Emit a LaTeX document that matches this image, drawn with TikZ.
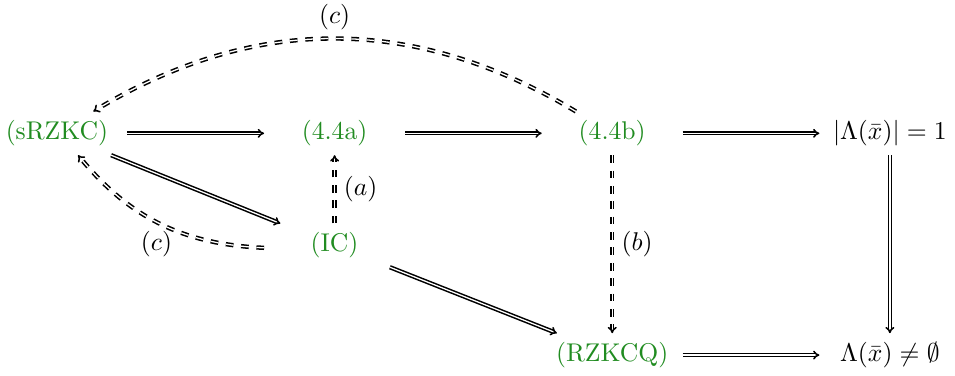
\documentclass[tikz,border=0pt]{standalone}
\usetikzlibrary{arrows.meta}
\usepackage{amsmath}
\definecolor{cgreen}{rgb}{0.13,0.55,0.13}

\begin{document}
\begin{tikzpicture}[node distance={108.3pt}, main/.style = {text=cgreen, minimum width=54.6pt, text height=7.5pt, text depth=2.5pt}, imp/.style = {line width=0.6pt, double, double distance=0.5pt, -Implies}]
            \useasboundingbox (0,0) rectangle (372.5pt,-146.3pt);
            \node[main] (1) at (22.2pt,-52pt) {(sRZKC)};
            \node[main] (2) [right of = 1] {(4.4a)};
            \node[main] (3) [right of = 2] {(4.4b)};
            \node[main, text=black] (4) [right of = 3] {$|\Lambda(\bar{x})| = 1$};
            \node[main, node distance=43.7pt] (5) [below of = 2] {(IC)};
            \node[main, node distance=86.5pt] (6) [below of = 3] {(RZKCQ)};
            \node[main, text=black, node distance=86.5pt] (7) [below of = 4] {$\Lambda(\bar{x}) \neq \emptyset$};
            \draw (1) [imp] to (2);
            \draw (2) [imp] to (3);
            \draw (3) [imp] to (4);
            \draw (4) [imp] to (7);
            \draw (6) [imp] to (7);
            \draw (1) [imp] to (5);
            \draw (5) [imp] to (6);
            \draw (5) [imp, dashed] to node[right] {$(a)$} (2);
            \draw (3) [imp, dashed] to node[right] {$(b)$} (6);
            \draw (3) [imp, dashed, bend right=31] to node[above] {$(c)$} (1);
            \draw (5) [imp, dashed, bend left=24] to node[below, pos=0.52] {$(c)$} (1);
        \end{tikzpicture}
\end{document}
